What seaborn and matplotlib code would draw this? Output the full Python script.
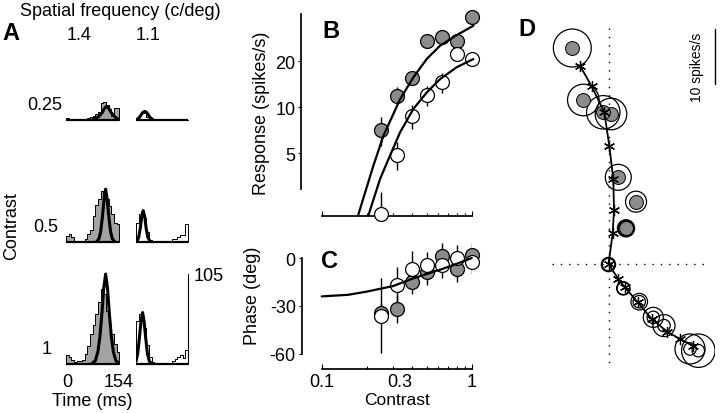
import numpy as np
import pandas as pd
import matplotlib
matplotlib.use('Agg')
import matplotlib.pyplot as plt
from matplotlib.patches import Circle
from matplotlib.ticker import FixedLocator, FuncFormatter, NullFormatter, NullLocator
import seaborn as sns

sns.set_theme(style='ticks', rc={'axes.edgecolor': 'black', 'xtick.color': 'black',
                                 'ytick.color': 'black', 'text.color': 'black',
                                 'axes.labelcolor': 'black'})
plt.rcParams['font.family'] = ['Liberation Sans', 'DejaVu Sans']

FS = 13

# ---------------- data ----------------
# Panel A: PSTH bins (20 bins over one 154 ms cycle), spikes/s
bin_edges_ms = [0, 7.7, 15.4, 23.1, 30.8, 38.5, 46.2, 53.9, 61.6, 69.3, 77.0,
                84.7, 92.4, 100.1, 107.8, 115.5, 123.2, 130.9, 138.6, 146.3, 154.0]
hist_14_c025 = [2, 1, 1, 1, 0, 1, 1, 1, 2, 3, 5, 7, 9, 20, 21, 17, 13, 5, 14, 14]
hist_11_c025 = [2, 5, 9, 8, 4, 1, 0, 0, 0, 0, 0, 0, 0, 0, 0, 0, 0, 0, 0, 0]
hist_14_c05 = [7, 10, 6, 1, 0, 0, 1, 4, 10, 14, 31, 43, 50, 60, 55, 50, 42, 33, 22, 21]
hist_11_c05 = [22, 33, 35, 28, 12, 3, 0, 0, 0, 0, 0, 0, 0, 2, 4, 4, 6, 9, 9, 21]
hist_14_c1 = [11, 8, 5, 2, 3, 4, 5, 12, 21, 35, 45, 58, 72, 88, 82, 62, 47, 35, 23, 14]
hist_11_c1 = [50, 58, 55, 42, 22, 8, 2, 0, 0, 0, 0, 0, 0, 0, 3, 6, 8, 10, 7, 16]
# fitted curves (time ms, spikes/s)
fit_14_c025_t = [80, 95, 105, 112, 117, 123, 130, 140, 150]
fit_14_c025_r = [1, 4, 9, 14, 16, 14, 9, 4, 1]
fit_11_c025_t = [3, 10, 16, 21, 26, 31, 36, 42, 50]
fit_11_c025_r = [0.5, 3, 6.5, 9, 10, 9, 6.5, 3, 0.5]
fit_14_c05_t = [88, 95, 100, 105, 110, 114.5, 119, 124, 129, 134, 141]
fit_14_c05_r = [0.5, 4, 12, 29, 50, 62, 50, 29, 12, 4, 0.5]
fit_11_c05_t = [3, 8, 13, 17, 21.5, 26, 30, 35, 42]
fit_11_c05_r = [1, 6, 17, 30, 37, 30, 17, 6, 1]
fit_14_c1_t = [75, 85, 92, 98, 104, 109, 114.5, 120, 125, 131, 137, 144, 154]
fit_14_c1_r = [0.5, 4, 14, 32, 60, 88, 105, 88, 60, 32, 14, 4, 0.5]
fit_11_c1_t = [0, 5, 10, 15, 19.6, 24, 29, 34, 40, 48]
fit_11_c1_r = [3, 12, 30, 50, 60, 50, 30, 12, 3, 0.3]

# Panel B / C
contrast = [0.25, 0.32, 0.4, 0.5, 0.63, 0.8, 1.0]
resp_filled = [7.1, 11.9, 15.5, 27.3, 29.0, 27.3, 38.8]
resp_filled_err = [1.5, 1.6, 1.0, 1.0, 1.0, 1.0, 1.0]
resp_open = [2.0, 4.9, 8.8, 12.0, 14.6, 22.3, 20.7]
resp_open_err = [0.8, 1.0, 1.6, 1.8, 2.2, 1.0, 1.0]
fitB_filled_c = [0.175, 0.221, 0.258, 0.333, 0.408, 0.501, 0.615, 0.794, 1.026]
fitB_filled_r = [1.97, 4.15, 6.52, 11.3, 15.7, 20.7, 25.3, 29.7, 34.2]
fitB_open_c = [0.205, 0.245, 0.285, 0.333, 0.408, 0.501, 0.615, 0.794, 1.026]
fitB_open_r = [1.97, 3.4, 4.82, 6.86, 9.75, 12.5, 15.3, 18.3, 20.7]

phase_filled = [-34.4, -31.9, -14.8, -8.9, 1.4, -6.9, 2.1]
phase_filled_err = [6, 9, 8, 8, 8, 8, 7]
phase_open = [-36.0, -16.9, -6.9, -4.2, -4.4, 0.0, -2.7]
phase_open_err = [23.5, 11, 11.5, 8, 8, 8, 7]
fitC_c = [0.1, 0.15, 0.2, 0.3, 0.4, 0.5, 0.63, 0.8, 1.0]
fitC_phase = [-24, -23, -21, -17.5, -13, -10, -7, -3.5, 0]

# Panel D (spikes/s)
d_filled_x = [3.09, 4.91, 1.69, 0.36, -1.04, -4.67, -6.67]
d_filled_y = [6.49, 11.33, 15.76, 27.27, 27.58, 29.82, 39.27]
d_filled_r = [1.45, 1.91, 2.36, 2.87, 3.04, 2.87, 3.45]
d_open_x = [-0.1, 2.6, 5.5, 8.05, 10.0, 16.24, 14.73]
d_open_y = [-0.1, -4.42, -6.85, -9.7, -11.2, -15.76, -15.45]
d_open_r = [1.3, 1.22, 1.51, 1.82, 2.0, 3.04, 2.73]
model_x = [-5.27, -3.15, -0.85, 0.05, 0.78, 0.91, 0.67, -0.09,
           1.69, 2.91, 5.22, 7.76, 10.6, 12.91, 15.33]
model_y = [36.05, 32.31, 27.58, 21.51, 15.45, 9.87, 5.58, 0.0,
           -2.73, -4.24, -6.96, -10.0, -12.31, -13.64, -14.85]

GRAY_H = '#a3a3a3'
GRAY_M = '#8c8c8c'

# ---------------- figure ----------------
W, H = 720, 414
fig = plt.figure(figsize=(7.2, 4.14), dpi=100)
fig.patch.set_facecolor('white')


def add_ax(l, t, r, b):
    return fig.add_axes([l / W, 1 - b / H, (r - l) / W, (b - t) / H])


def ftext(x, y, s, **kw):
    kw.setdefault('fontsize', FS)
    kw.setdefault('ha', 'center')
    kw.setdefault('va', 'center')
    fig.text(x / W, 1 - y / H, s, **kw)


# ---------------- Panel A ----------------
centers = [(a + b) / 2 for a, b in zip(bin_edges_ms[:-1], bin_edges_ms[1:])]
cols = [(66, 119.3), (136, 187.7)]
bases = [121, 243.3, 365]
panels = [
    [(hist_14_c025, fit_14_c025_t, fit_14_c025_r), (hist_11_c025, fit_11_c025_t, fit_11_c025_r)],
    [(hist_14_c05, fit_14_c05_t, fit_14_c05_r), (hist_11_c05, fit_11_c05_t, fit_11_c05_r)],
    [(hist_14_c1, fit_14_c1_t, fit_14_c1_r), (hist_11_c1, fit_11_c1_t, fit_11_c1_r)],
]
PXU = 0.857
for ri, base in enumerate(bases):
    for ci, (l, r) in enumerate(cols):
        hist, ft, fr = panels[ri][ci]
        ax = add_ax(l, base - 105, r, base)
        df = pd.DataFrame({'t': centers, 'w': hist})
        sns.histplot(data=df, x='t', weights='w', bins=bin_edges_ms, element='step',
                     fill=True, color=GRAY_H if ci == 0 else 'white', edgecolor='black',
                     linewidth=0.7, alpha=1, ax=ax)
        sns.lineplot(x=ft, y=fr, color='black', lw=2.2, ax=ax, zorder=4)
        ax.plot([0, 154], [0, 0], color='black', lw=1.6, solid_capstyle='butt',
                clip_on=False, zorder=5)
        if ri == 2 and ci == 1:
            ax.plot([154, 154], [0, 105], color='black', lw=0.8, clip_on=False)
        ax.set_xlim(0, 154)
        ax.set_ylim(0, 105 / PXU)
        ax.axis('off')

ftext(120, 12, 'Spatial frequency (c/deg)')
ftext(11, 33, 'A', fontsize=17, fontweight='bold')
ftext(79, 36, '1.4')
ftext(148, 36, '1.1')
ftext(62, 105, '0.25', ha='right')
ftext(58, 228, '0.5', ha='right')
ftext(52, 350, '1', ha='right')
ftext(12, 226, 'Contrast', rotation=90)
ftext(67, 383, '0')
ftext(119, 383, '154')
ftext(92, 402, 'Time (ms)')
ftext(194, 277, '105', ha='left')

# ---------------- Panel B ----------------
axB = add_ax(321.7, 12, 471.7, 216.5)
axB.set_xscale('log')
axB.set_yscale('log')
axB.vlines(contrast, [v - e for v, e in zip(resp_filled, resp_filled_err)],
           [v + e for v, e in zip(resp_filled, resp_filled_err)], color='black', lw=1, zorder=2)
axB.vlines(contrast, [max(v - e, 1.97) for v, e in zip(resp_open, resp_open_err)],
           [v + e for v, e in zip(resp_open, resp_open_err)], color='black', lw=1, zorder=2)
sns.scatterplot(x=contrast, y=resp_filled, s=100, color=GRAY_M, edgecolor='black',
                linewidth=0.9, ax=axB, zorder=3, clip_on=False)
sns.scatterplot(x=contrast, y=resp_open, s=100, color='white', edgecolor='black',
                linewidth=0.9, ax=axB, zorder=3.5, clip_on=False)
sns.lineplot(x=fitB_filled_c, y=fitB_filled_r, color='black', lw=1.6, ax=axB, zorder=5,
             clip_on=False)
sns.lineplot(x=fitB_open_c, y=fitB_open_r, color='black', lw=1.6, ax=axB, zorder=5,
             clip_on=False)
axB.set_xlim(0.1, 1.0)
axB.set_ylim(1.96, 42.7)
axB.yaxis.set_major_locator(FixedLocator([5, 10, 20]))
axB.yaxis.set_major_formatter(FuncFormatter(lambda v, p: f'{v:g}'))
axB.yaxis.set_minor_locator(NullLocator())
axB.xaxis.set_major_locator(FixedLocator([0.1, 1.0]))
axB.xaxis.set_minor_locator(FixedLocator([0.2, 0.3, 0.4, 0.5, 0.6, 0.7, 0.8, 0.9]))
axB.xaxis.set_major_formatter(NullFormatter())
axB.xaxis.set_minor_formatter(NullFormatter())
axB.set_xlabel('')
axB.set_ylabel('')
for s in ['top', 'right']:
    axB.spines[s].set_visible(False)
axB.spines['left'].set_position(('outward', 14.6))
axB.spines['left'].set_bounds(2.92, 40.8)
axB.spines['bottom'].set_bounds(0.1, 1.0)
axB.tick_params(axis='x', which='major', direction='in', length=3.5, width=0.8)
axB.tick_params(axis='x', which='minor', direction='in', length=2.2, width=0.8)
axB.tick_params(axis='y', which='major', direction='out', length=2.2, width=0.8,
                labelsize=FS, pad=2)
axB.patch.set_alpha(0)
ftext(262, 113, 'Response (spikes/s)', rotation=90)
ftext(331, 32, 'B', fontsize=17, fontweight='bold')

# ---------------- Panel C ----------------
axC = add_ax(321.7, 240, 471.7, 370)
axC.set_xscale('log')
axC.vlines(contrast, [v - e for v, e in zip(phase_filled, phase_filled_err)],
           [v + e for v, e in zip(phase_filled, phase_filled_err)], color='black', lw=1, zorder=2)
axC.vlines(contrast, [v - e for v, e in zip(phase_open, phase_open_err)],
           [v + e for v, e in zip(phase_open, phase_open_err)], color='black', lw=1, zorder=2)
sns.scatterplot(x=contrast, y=phase_filled, s=100, color=GRAY_M, edgecolor='black',
                linewidth=0.9, ax=axC, zorder=3, clip_on=False)
sns.scatterplot(x=contrast, y=phase_open, s=100, color='white', edgecolor='black',
                linewidth=0.9, ax=axC, zorder=3.5, clip_on=False)
sns.lineplot(x=fitC_c, y=fitC_phase, color='black', lw=1.6, ax=axC, zorder=5, clip_on=False)
axC.set_xlim(0.1, 1.0)
axC.set_ylim(-69.4, 11.9)
axC.yaxis.set_major_locator(FixedLocator([-60, -30, 0]))
axC.yaxis.set_major_formatter(FuncFormatter(lambda v, p: f'{v:g}'))
axC.xaxis.set_major_locator(FixedLocator([0.1, 1.0]))
axC.xaxis.set_minor_locator(FixedLocator([0.2, 0.3, 0.4, 0.5, 0.6, 0.7, 0.8, 0.9]))
axC.xaxis.set_major_formatter(FuncFormatter(lambda v, p: f'{v:g}'))
axC.xaxis.set_minor_formatter(NullFormatter())
axC.set_xlabel('')
axC.set_ylabel('')
for s in ['top', 'right']:
    axC.spines[s].set_visible(False)
axC.spines['left'].set_position(('outward', 14.4))
axC.spines['left'].set_bounds(-60, 0)
axC.spines['bottom'].set_bounds(0.1, 1.0)
axC.tick_params(axis='x', which='major', direction='in', length=3.5, width=0.8,
                labelsize=FS, pad=3)
axC.tick_params(axis='x', which='minor', direction='in', length=2.2, width=0.8)
axC.tick_params(axis='y', which='major', direction='out', length=2.2, width=0.8,
                labelsize=FS, pad=2)
axC.patch.set_alpha(0)
ftext(400, 383, '0.3')
ftext(397, 401, 'Contrast', fontsize=12.5)
ftext(253, 296, 'Phase (deg)', rotation=90)
ftext(330, 261, 'C', fontsize=17, fontweight='bold')

# ---------------- Panel D ----------------
S = 5.5  # px per spike/s
axD = add_ax(545, 20, 715, 385)
axD.plot([0, 0], [42.9, -18.7], color='black', lw=1.0, ls=(0, (1, 5)), zorder=1)
axD.plot([-10.4, 18.4], [0, 0], color='black', lw=1.0, ls=(0, (1, 5)), zorder=1)
for x, y, r in zip(d_filled_x, d_filled_y, d_filled_r):
    axD.add_patch(Circle((x, y), r, fill=False, ec='black', lw=0.9 if r > 1.6 else 1.8,
                         zorder=2))
for x, y, r in zip(d_open_x, d_open_y, d_open_r):
    axD.add_patch(Circle((x, y), r, fill=False, ec='black', lw=0.9, zorder=2))
sns.scatterplot(x=d_filled_x, y=d_filled_y, s=100, color=GRAY_M, edgecolor='black',
                linewidth=0.7, ax=axD, zorder=3)
sns.scatterplot(x=d_open_x, y=d_open_y, s=80, facecolor='none', edgecolor='black',
                linewidth=0.9, ax=axD, zorder=3)
sns.lineplot(x=model_x, y=model_y, sort=False, estimator=None, color='black', lw=1.3,
             marker=(6, 2, 0), markersize=8, markeredgewidth=0.9, markeredgecolor='black',
             ax=axD, zorder=4)
axD.plot([106 / S, 106 / S], [(265 - 30) / S, (265 - 85) / S], color='black', lw=1.0,
         clip_on=False)
axD.set_xlim(-64 / S, 106 / S)
axD.set_ylim((265 - 385) / S, (265 - 20) / S)
axD.axis('off')
ftext(697, 67, '10 spikes/s', rotation=90, fontsize=10)
ftext(527, 29, 'D', fontsize=17, fontweight='bold')

fig.savefig('out.png', dpi=100, facecolor='white')
